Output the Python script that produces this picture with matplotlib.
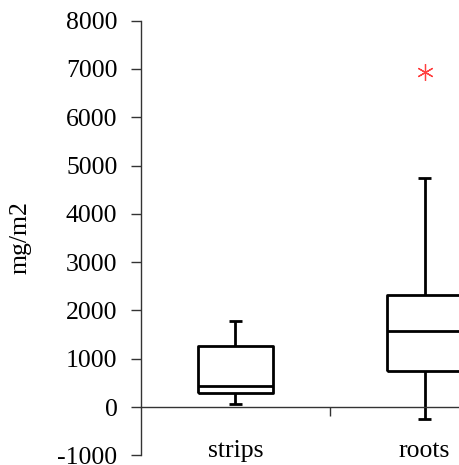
import matplotlib
matplotlib.use("Agg")
import matplotlib.pyplot as plt

# Box-plot summary statistics (mg/m2)
categories = ["strips", "roots"]
whisker_low = [60, -250]
q1 = [285, 745]
median = [435, 1575]
q3 = [1255, 2320]
whisker_high = [1780, 4735]
outliers = [[], [6940]]

y_ticks = [-1000, 0, 1000, 2000, 3000, 4000, 5000, 6000, 7000, 8000]

plt.rcParams["font.family"] = ["Liberation Serif", "DejaVu Serif"]

fig = plt.figure(figsize=(4.6, 4.65), dpi=100)
ax = fig.add_axes([141 / 460, 1 - 455.3 / 465, 378 / 460, (455.3 - 20.7) / 465])

stats = []
for i, name in enumerate(categories):
    stats.append({
        "label": name,
        "whislo": whisker_low[i],
        "q1": q1[i],
        "med": median[i],
        "q3": q3[i],
        "whishi": whisker_high[i],
        "fliers": outliers[i],
    })

positions = [0.5 + i for i in range(len(categories))]
line_kw = dict(color="black", linewidth=2.0, solid_capstyle="butt")
ax.bxp(stats, positions=positions, widths=0.40, capwidths=0.065,
       boxprops=line_kw, medianprops=line_kw, whiskerprops=line_kw,
       capprops=line_kw,
       flierprops=dict(marker=(6, 2, 0), markersize=12, markeredgecolor="#ff4040",
                       markerfacecolor="none", markeredgewidth=0.9, linestyle="none"),
       manage_ticks=False)

ax.set_xlim(0, 2)
ax.set_ylim(-1000, 8000)
ax.set_yticks(y_ticks)
ax.set_yticklabels([str(v) for v in y_ticks])

# category labels centred on each box, separator tick between them
ax.set_xticks(positions)
ax.set_xticklabels(categories)
ax.set_xticks([1.0], minor=True)
ax.tick_params(axis="x", which="major", length=0, pad=24, labelsize=18.5)
ax.tick_params(axis="x", which="minor", length=6.5, width=1.0, direction="out", color="#333333")
ax.tick_params(axis="y", which="major", length=7, width=1.0, direction="out",
               color="#333333", pad=10, labelsize=18.5)

for side in ("top", "right"):
    ax.spines[side].set_visible(False)
ax.spines["bottom"].set_position(("data", 0))
ax.spines["bottom"].set_color("#333333")
ax.spines["left"].set_color("#333333")
ax.spines["bottom"].set_linewidth(1.0)
ax.spines["left"].set_linewidth(1.0)

fig.text(21 / 460, 1 - 238 / 465, "mg/m2", rotation=90, ha="center", va="center",
         fontsize=18.5)

fig.savefig("out.png", dpi=100)
